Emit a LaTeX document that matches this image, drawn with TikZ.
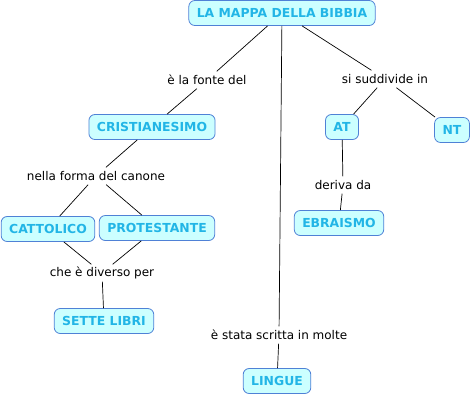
\documentclass[tikz,border=0pt]{standalone}
\usepackage{fontspec}
\setmainfont{DejaVu Sans}
\usepackage{tikz}
\definecolor{conceptfill}{HTML}{CCFFFF}
\definecolor{conceptline}{HTML}{4F81D6}
\definecolor{concepttext}{HTML}{22B5E6}

\begin{document}
\begin{tikzpicture}[x=1pt,y=-1pt,
  concept/.style={draw=conceptline,fill=conceptfill,line width=0.8pt,rounded corners=6pt,
    text=concepttext,font=\fontsize{12.4}{14}\selectfont\bfseries,
    inner xsep=8pt,inner ysep=0pt,minimum height=25pt},
  linkword/.style={font=\fontsize{12}{14}\selectfont,inner sep=1pt,minimum height=17pt},
  link/.style={line width=0.7pt}]
  \useasboundingbox (0,0) rectangle (471,397);
  % concepts
  \node[concept] (bibbia) at (282,13) {LA MAPPA DELLA BIBBIA};
  \node[concept] (crist) at (152,127) {CRISTIANESIMO};
  \node[concept] (at) at (342,127) {AT};
  \node[concept] (nt) at (452,130) {NT};
  \node[concept] (ebraismo) at (339,223) {EBRAISMO};
  \node[concept] (cattolico) at (48,229) {CATTOLICO};
  \node[concept] (protestante) at (157,228) {PROTESTANTE};
  \node[concept] (sette) at (104,321) {SETTE LIBRI};
  \node[concept] (lingue) at (277,381) {LINGUE};
  % linking words
  \node[linkword] (fonte) at (207,80) {è la fonte del};
  \node[linkword] (suddivide) at (385,79) {si suddivide in};
  \node[linkword] (forma) at (96,176) {nella forma del canone};
  \node[linkword] (deriva) at (343,185) {deriva da};
  \node[linkword] (diverso) at (102,273) {che è diverso per};
  \node[linkword] (scritta) at (279,335) {è stata scritta in molte};
  % links
  \draw[link] (bibbia) -- (fonte) -- (crist);
  \draw[link] (bibbia) -- (suddivide) -- (at);
  \draw[link] (suddivide) -- (nt);
  \draw[link] (bibbia) -- (scritta) -- (lingue);
  \draw[link] (crist) -- (forma) -- (cattolico);
  \draw[link] (forma) -- (protestante);
  \draw[link] (cattolico) -- (diverso) -- (sette);
  \draw[link] (protestante) -- (diverso);
  \draw[link] (at) -- (deriva) -- (ebraismo);
\end{tikzpicture}
\end{document}
